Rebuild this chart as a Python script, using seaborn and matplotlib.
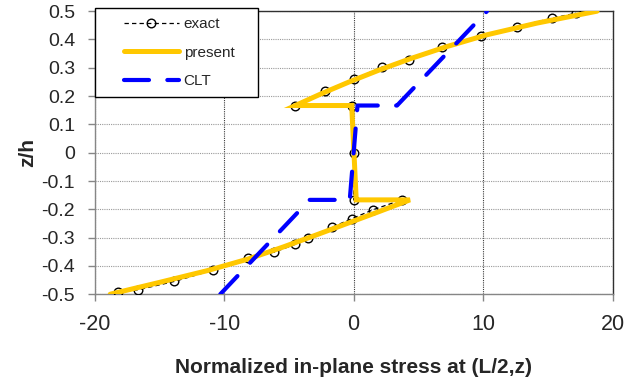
import matplotlib
matplotlib.use("Agg")
import matplotlib.pyplot as plt
import pandas as pd
import seaborn as sns
from matplotlib.legend_handler import HandlerLine2D

# Through-thickness position z/h and normalized in-plane stress for each solution
exact_z = [-0.493, -0.484, -0.455, -0.415, -0.373, -0.351, -0.324, -0.300,
           -0.263, -0.233, -0.201, -0.1667, -0.1667, 0.0, 0.1667, 0.1667,
           0.218, 0.259, 0.302, 0.329, 0.372, 0.413, 0.445, 0.475, 0.493]
exact_s = [-18.16, -16.62, -13.86, -10.87, -8.12, -6.12, -4.52, -3.54,
           -1.64, -0.14, 1.53, 3.72, 0.0, 0.0, -0.1, -4.52,
           -2.25, 0.0, 2.18, 4.29, 6.86, 9.82, 12.6, 15.3, 17.18]

present_z = [-0.5, -0.4583, -0.4167, -0.375, -0.3333, -0.2917, -0.25, -0.2083,
             -0.1667, -0.1667, 0.1667, 0.1667, 0.2083, 0.25, 0.2917, 0.3333,
             0.375, 0.4167, 0.4583, 0.5]
present_s = [-18.8, -15.0, -11.3, -8.1, -5.45, -2.95, -0.5, 1.95,
             4.35, 0.2, -0.15, -4.5, -2.5, -0.35, 1.95, 4.45,
             7.2, 10.3, 14.2, 18.8]

clt_z = [-0.5, -0.1667, -0.1667, 0.1667, 0.1667, 0.5]
clt_s = [-10.3, -3.4, -0.3, 0.3, 3.35, 10.3]

x_ticks = [-20, -10, 0, 10, 20]
y_ticks = [-0.5, -0.4, -0.3, -0.2, -0.1, 0.0, 0.1, 0.2, 0.3, 0.4, 0.5]
y_tick_labels = ["-0.5", "-0.4", "-0.3", "-0.2", "-0.1", "0",
                 "0.1", "0.2", "0.3", "0.4", "0.5"]

sns.set_style("white")
plt.rcParams["font.family"] = ["Liberation Sans", "DejaVu Sans"]
plt.rcParams["axes.unicode_minus"] = False

exact = pd.DataFrame({"stress": exact_s, "z": exact_z})
present = pd.DataFrame({"stress": present_s, "z": present_z})
clt = pd.DataFrame({"stress": clt_s, "z": clt_z})

fig = plt.figure(figsize=(6.32, 3.86), dpi=100)
ax = fig.add_axes([0.1498, 0.2378, 0.8195, 0.7332])

sns.lineplot(data=exact, x="stress", y="z", sort=False, estimator=None, ax=ax,
             color="black", linewidth=0.9, linestyle=(0, (3.5, 2.5)),
             marker="o", markersize=6.2, markerfacecolor="none",
             markeredgecolor="black", markeredgewidth=1.0, zorder=3,
             label="exact")
sns.lineplot(data=present, x="stress", y="z", sort=False, estimator=None, ax=ax,
             color="#FFC800", linewidth=3.6, solid_joinstyle="miter",
             zorder=4, label="present")
sns.lineplot(data=clt, x="stress", y="z", sort=False, estimator=None, ax=ax,
             color="#0000FF", linewidth=3.0, linestyle=(0, (6.0, 4.4)),
             dash_capstyle="round", zorder=5, label="CLT")

ax.set_xlim(-20, 20)
ax.set_ylim(-0.5, 0.5)
ax.set_xticks(x_ticks)
ax.set_xticklabels([str(t) for t in x_ticks])
ax.set_yticks(y_ticks)
ax.set_yticklabels(y_tick_labels)

# Excel-style grid: dotted horizontal lines at every tick, darker verticals
ax.grid(axis="y", color="#9a9a9a", linestyle=(0, (1, 1)), linewidth=0.8)
ax.grid(axis="x", color="#3a3a3a", linestyle=(0, (1, 1)), linewidth=0.8)
ax.set_axisbelow(True)

for side in ("left", "bottom"):
    ax.spines[side].set_color("#868686")
    ax.spines[side].set_linewidth(1.0)
for side in ("top", "right"):
    ax.spines[side].set_color("#303030")
    ax.spines[side].set_linewidth(1.0)

ax.tick_params(axis="y", direction="out", length=5, width=1, color="#868686",
               pad=9, labelsize=14, left=True)
ax.tick_params(axis="x", direction="out", length=5, width=1, color="#868686",
               pad=9, labelsize=15.5, bottom=True)

ax.set_xlabel("Normalized in-plane stress at (L/2,z)", fontsize=15,
              fontweight="bold")
ax.xaxis.set_label_coords(0.5, -0.225)
ax.set_ylabel("z/h", fontsize=15, fontweight="bold")
ax.yaxis.set_label_coords(-0.111, 0.5)

handles = ax.get_lines()
exact_line, present_line, clt_line = handles[0], handles[1], handles[2]
leg = ax.legend([exact_line, present_line, clt_line], ["exact", "present", "CLT"],
                loc="upper left", bbox_to_anchor=(0.0, 0.0, 0.3147, 1.011),
                mode="expand", borderaxespad=0,
                frameon=True, fancybox=False, edgecolor="black", framealpha=1,
                fontsize=11, handlelength=4.9, handletextpad=0.33,
                labelspacing=0.95, borderpad=0.6, numpoints=1,
                handler_map={exact_line: HandlerLine2D(numpoints=1, xpad=1.3),
                             present_line: HandlerLine2D(xpad=1.3),
                             clt_line: HandlerLine2D(xpad=1.3)})
leg.get_frame().set_linewidth(1.0)
leg.set_zorder(10)

fig.savefig("out.png", dpi=100)
